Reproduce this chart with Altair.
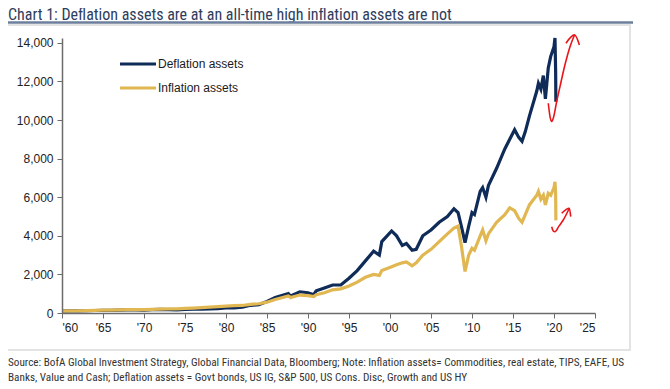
import altair as alt
import pandas as pd

# ---- data ----
years = [1960, 1961, 1962, 1963, 1964, 1965, 1966, 1967, 1968, 1969, 1970, 1971, 1972, 1973,
         1974, 1975, 1976, 1977, 1978, 1979, 1980, 1981, 1982, 1983, 1984, 1985, 1986, 1987.6,
         1987.9, 1988, 1989, 1990, 1990.7, 1991, 1992, 1993, 1994, 1995, 1996, 1997, 1998,
         1998.7, 1999, 2000.2, 2000.8, 2001.5, 2002, 2002.7, 2003.2, 2004, 2005, 2006, 2007,
         2007.8, 2008.3, 2008.7, 2009.15, 2009.6, 2010, 2010.3, 2011.0, 2011.3, 2011.7, 2012,
         2013, 2014, 2014.6, 2015.2, 2015.7, 2016.1, 2016.5, 2017, 2017.9, 2018.1, 2018.4,
         2018.7, 2018.95, 2019.3, 2019.6, 2020.0, 2020.12, 2020.2, 2020.23]
deflation = [100, 110, 105, 120, 130, 140, 135, 150, 160, 155, 150, 170, 185, 175,
             155, 180, 200, 200, 210, 230, 260, 270, 300, 400, 430, 600, 800, 1000,
             850, 900, 1100, 1050, 950, 1150, 1300, 1450, 1450, 1800, 2200, 2700, 3200,
             3000, 3700, 4250, 4000, 3500, 3600, 3250, 3300, 4000, 4300, 4700, 5000,
             5400, 5200, 4500, 3650, 4500, 5200, 5100, 6300, 6500, 6000, 6600,
             7500, 8500, 9000, 9500, 9100, 8900, 9400, 10200, 11500, 11900, 11600,
             12300, 11100, 12700, 13300, 13800, 14250, 12500, 10950]
inflation = [100, 110, 115, 125, 135, 145, 150, 160, 170, 175, 180, 190, 200, 210,
             215, 235, 255, 275, 300, 330, 360, 380, 390, 450, 480, 560, 700, 880,
             800, 820, 930, 900, 850, 950, 1050, 1200, 1250, 1400, 1600, 1850, 2000,
             1950, 2200, 2400, 2500, 2600, 2650, 2450, 2600, 3000, 3300, 3700, 4100,
             4400, 4500, 3500, 2150, 3000, 3350, 3250, 4000, 4300, 3750, 4100,
             4700, 5100, 5450, 5300, 4900, 4700, 5100, 5600, 6100, 6300, 5900,
             6100, 5600, 6200, 6100, 6500, 6800, 6200, 4800]

series_names = ["Deflation assets", "Inflation assets"]
series_colors = ["#0f2b58", "#e0b751"]

# hand-drawn red arrows (annotation paths in data space)
arrow_up_x = [2019.3, 2019.55, 2019.72, 2019.95, 2020.3, 2020.73, 2021.3, 2021.95, 2022.5]
arrow_up_y = [10870, 10100, 9920, 10150, 10900, 11730, 12800, 13800, 14410]
head_up_x = [2021.46, 2022.5, 2023.1]
head_up_y = [13980, 14410, 13890]
arrow_lo_x = [2019.72, 2019.9, 2020.12, 2020.6, 2021.13, 2021.87]
arrow_lo_y = [4470, 4250, 4210, 4500, 4820, 5430]
head_lo_x = [2020.94, 2021.87, 2022.04]
head_lo_y = [5170, 5430, 4990]

x_ticks = list(range(1960, 2026, 5))
y_ticks = list(range(0, 14001, 2000))

title_text = "Chart 1: Deflation  assets are at an all-time high inflation assets are not"
footer_1 = ("Source: BofA Global Investment Strategy, Global Financial Data, Bloomberg; Note: "
            "Inflation assets= Commodities, real estate, TIPS, EAFE, US")
footer_2 = "Banks, Value and Cash; Deflation assets = Govt bonds, US IG, S&P 500, US Cons. Disc, Growth and US HY"

# ---- tables ----
df = pd.concat([
    pd.DataFrame({"year": years, "value": deflation, "series": series_names[0]}),
    pd.DataFrame({"year": years, "value": inflation, "series": series_names[1]}),
])

arrows = []
for name, xs, ys in [("up", arrow_up_x, arrow_up_y), ("uph", head_up_x, head_up_y),
                     ("lo", arrow_lo_x, arrow_lo_y), ("loh", head_lo_x, head_lo_y)]:
    for i, (a, b) in enumerate(zip(xs, ys)):
        arrows.append({"year": a, "value": b, "path": name, "ord": i})
arrows = pd.DataFrame(arrows)

W, H = 533, 275
xscale = alt.Scale(domain=[1960, 2025], nice=False, zero=False)
yscale = alt.Scale(domain=[0, 14250], nice=False)

one = pd.DataFrame({"k": [0]})
narrow = "Liberation Sans Narrow, Roboto Condensed, Roboto, sans-serif"
arial = "Liberation Sans, Arial, sans-serif"

axis_common = dict(grid=False, tickSize=5, labelFontSize=12, labelColor="#222", labelFont=arial,
                   domainColor="#6b6b6b", tickColor="#6b6b6b", domainWidth=1.5, zindex=1,
                   labelOverlap=False, labelPadding=4)
x_axis = alt.Axis(values=x_ticks, labelExpr="\"'\" + slice(toString(datum.value), 2)",
                  **axis_common)
y_axis = alt.Axis(values=y_ticks, format=",d", **axis_common)


def xenc():
    return alt.X("year:Q", scale=xscale, title=None, axis=x_axis)


def yenc():
    return alt.Y("value:Q", scale=yscale, title=None, axis=y_axis)


box = alt.Chart(one).mark_rect(fillOpacity=0, stroke="#e3e3e3", strokeWidth=2).encode(
    x=alt.value(-56), x2=alt.value(568), y=alt.value(-13), y2=alt.value(312))

title = alt.Chart(one).mark_text(align="left", baseline="alphabetic", font=narrow,
                                 fontSize=16, color="#2e3d5c", text=title_text).encode(
    x=alt.value(-54), y=alt.value(-18))
underline = alt.Chart(one).mark_rule(color="#6d7f9c", strokeWidth=2.5).encode(
    x=alt.value(-54), x2=alt.value(571), y=alt.value(-15.5))

lines = alt.Chart(df).mark_line(strokeWidth=3.2).encode(
    x=xenc(), y=yenc(),
    color=alt.Color("series:N", scale=alt.Scale(domain=series_names, range=series_colors),
                    legend=None),
    detail="series:N",
)

arrow_layer = alt.Chart(arrows).mark_line(color="#e8161b", strokeWidth=1.6,
                                          interpolate="monotone").encode(
    x=xenc(), y=yenc(), detail="path:N", order="ord:Q")

legend_layers = []
for name, col, ypix in zip(series_names, series_colors, [26, 50]):
    legend_layers.append(alt.Chart(one).mark_rule(strokeWidth=3, color=col).encode(
        x=alt.value(58), x2=alt.value(94), y=alt.value(ypix)))
    legend_layers.append(alt.Chart(one).mark_text(align="left", baseline="middle", fontSize=12,
                                                  font=arial, color="#1a1a1a", text=name).encode(
        x=alt.value(96), y=alt.value(ypix)))

foot1 = alt.Chart(one).mark_text(align="left", baseline="middle", font=narrow, fontSize=11.2,
                                 color="#333", text=footer_1).encode(
    x=alt.value(-54), y=alt.value(324.5))
foot2 = alt.Chart(one).mark_text(align="left", baseline="middle", font=narrow, fontSize=11.2,
                                 color="#333", text=footer_2).encode(
    x=alt.value(-54), y=alt.value(339.5))

chart = alt.layer(box, title, underline, lines, arrow_layer, *legend_layers, foot1, foot2
                  ).properties(
    width=W, height=H,
    autosize=alt.AutoSizeParams(type="none"),
    padding={"left": 54, "top": 30, "right": 67, "bottom": 70},
).configure_view(stroke=None)

chart.save("out.html", embed_options={"renderer": "svg", "actions": False})
